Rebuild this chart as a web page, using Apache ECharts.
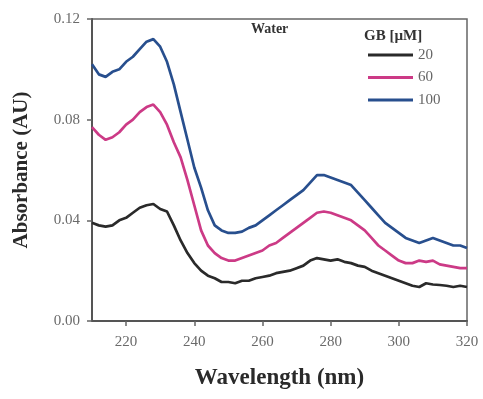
<!DOCTYPE html>
<html>
<head>
<meta charset="utf-8">
<script src="https://cdn.jsdelivr.net/npm/echarts@6/dist/echarts.min.js"></script>
<style>
  html, body { margin: 0; padding: 0; background: #fff; }
  #chart { width: 483px; height: 399px; }
</style>
</head>
<body>
<div id="chart"></div>
<script>
// wavelength (nm), every 2 nm
var wavelength = [210,212,214,216,218,220,222,224,226,228,230,232,234,236,238,240,242,244,246,248,
  250,252,254,256,258,260,262,264,266,268,270,272,274,276,278,280,282,284,286,288,
  290,292,294,296,298,300,302,304,306,308,310,312,314,316,318,320];
// absorbance, GB 20 uM
var gb20 = [0.039,0.038,0.0375,0.038,0.040,0.041,0.043,0.045,0.046,0.0465,0.0445,0.0435,0.038,0.032,0.027,0.023,0.020,0.018,0.017,0.0155,
  0.0155,0.015,0.016,0.016,0.017,0.0175,0.018,0.019,0.0195,0.020,0.021,0.022,0.024,0.025,0.0245,0.024,0.0245,0.0235,0.023,0.022,
  0.0215,0.020,0.019,0.018,0.017,0.016,0.015,0.014,0.0135,0.015,0.0145,0.0143,0.014,0.0135,0.014,0.0135];
// absorbance, GB 60 uM
var gb60 = [0.077,0.074,0.072,0.073,0.075,0.078,0.080,0.083,0.085,0.086,0.083,0.078,0.071,0.065,0.056,0.046,0.036,0.030,0.027,0.025,
  0.024,0.024,0.025,0.026,0.027,0.028,0.030,0.031,0.033,0.035,0.037,0.039,0.041,0.043,0.0435,0.043,0.042,0.041,0.040,0.038,
  0.036,0.033,0.030,0.028,0.026,0.024,0.023,0.023,0.024,0.0235,0.024,0.0225,0.022,0.0215,0.021,0.021];
// absorbance, GB 100 uM
var gb100 = [0.102,0.098,0.097,0.099,0.100,0.103,0.105,0.108,0.111,0.112,0.109,0.103,0.094,0.083,0.072,0.061,0.053,0.044,0.038,0.036,
  0.035,0.035,0.0355,0.037,0.038,0.040,0.042,0.044,0.046,0.048,0.050,0.052,0.055,0.058,0.058,0.057,0.056,0.055,0.054,0.051,
  0.048,0.045,0.042,0.039,0.037,0.035,0.033,0.032,0.031,0.032,0.033,0.032,0.031,0.030,0.030,0.029];

var seriesNames = ['20', '60', '100'];
var seriesColors = ['#2a2a2a', '#cc3a86', '#284f8e'];
var xTicks = [220, 240, 260, 280, 300, 320];

var serif = '"Liberation Serif", "DejaVu Serif", serif';

//pair wavelengths with values
function toPoints(values) {
  var pts = [];
  for (var i = 0; i < wavelength.length; i++) {
    pts.push([wavelength[i], values[i]]);
  }
  return pts;
}

var chart = echarts.init(document.getElementById('chart'));

var option = {
  animation: false,
  backgroundColor: '#fff',
  grid: {
    left: 92, right: 16, top: 19, bottom: 78,
    show: true,
    borderColor: '#666',
    borderWidth: 1.5
  },
  legend: {
    orient: 'vertical',
    left: 368,
    top: 44,
    padding: 0,
    icon: 'rect',
    itemWidth: 45,
    itemHeight: 3,
    itemGap: 0.5,
    data: seriesNames,
    textStyle: { fontFamily: serif, fontSize: 15, color: '#666', lineHeight: 22 }
  },
  graphic: [
    {
      type: 'text', left: 251, top: 22,
      style: { text: 'Water', font: 'bold 14px ' + serif, fill: '#333' }
    },
    {
      type: 'text', left: 364, top: 29,
      style: { text: 'GB [µM]', font: 'bold 15px ' + serif, fill: '#333' }
    }
  ],
  xAxis: {
    type: 'value',
    min: 210,
    max: 320,
    name: 'Wavelength (nm)',
    nameLocation: 'middle',
    nameGap: 46,
    nameTextStyle: { fontFamily: serif, fontWeight: 'bold', fontSize: 23, color: '#2a2a2a' },
    axisLine: { show: true, lineStyle: { color: '#555', width: 2 } },
    axisTick: { show: true, customValues: xTicks, length: 5, lineStyle: { color: '#666', width: 1.5 } },
    axisLabel: { customValues: xTicks, margin: 14, fontFamily: serif, fontSize: 15, color: '#6a6a6a' },
    splitLine: { show: false }
  },
  yAxis: {
    type: 'value',
    min: 0,
    max: 0.12,
    interval: 0.04,
    name: 'Absorbance (AU)',
    nameLocation: 'middle',
    nameGap: 60,
    nameTextStyle: { fontFamily: serif, fontWeight: 'bold', fontSize: 21, color: '#2a2a2a' },
    axisLine: { show: true, lineStyle: { color: '#555', width: 2 } },
    axisTick: { show: true, length: 5, lineStyle: { color: '#666', width: 1.5 } },
    axisLabel: {
      margin: 12, fontFamily: serif, fontSize: 15, color: '#6a6a6a',
      formatter: function (v) { return v.toFixed(2); }
    },
    splitLine: { show: false }
  },
  series: [
    { name: seriesNames[0], type: 'line', data: toPoints(gb20) },
    { name: seriesNames[1], type: 'line', data: toPoints(gb60) },
    { name: seriesNames[2], type: 'line', data: toPoints(gb100) }
  ]
};

option.series.forEach(function (s, i) {
  s.showSymbol = false;
  s.symbol = 'none';
  s.color = seriesColors[i];
  s.lineStyle = { color: seriesColors[i], width: 2.7 };
});

chart.setOption(option);
</script>
</body>
</html>
